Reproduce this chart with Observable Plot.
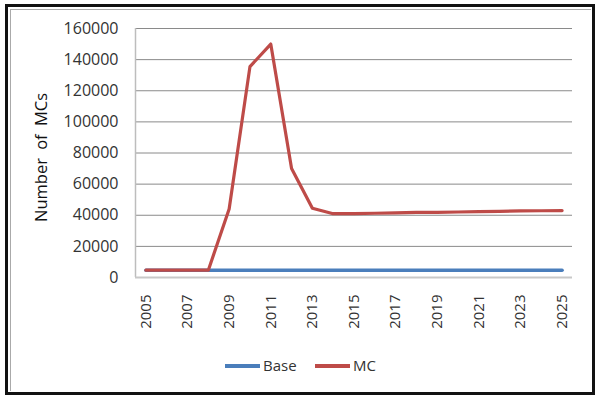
<!DOCTYPE html>
<html>
<head>
<meta charset="utf-8">
<script src="https://cdn.jsdelivr.net/npm/d3@7"></script>
<script src="https://cdn.jsdelivr.net/npm/@observablehq/plot@0.6"></script>
<style>
  html, body { margin: 0; padding: 0; background: #fff; }
  #wrap { position: relative; width: 600px; height: 400px; overflow: hidden; font-family: "Open Sans", sans-serif; }
  #frame { position: absolute; left: 5px; top: 4px; width: 584px; height: 385px; border: 3px solid #111; }
  #inner { position: absolute; left: 2px; top: 2px; right: 1px; bottom: 1px; border: 1px solid #aaa; border-right: none; border-bottom: none; }
  #chart { position: absolute; left: 0; top: 0; }
  .leg { position: absolute; top: 355px; font-size: 15px; color: #333; height: 20px; line-height: 20px; }
  .leg span.sw { position: absolute; top: 9px; width: 35px; height: 4px; }
  .leg span.lb { position: absolute; left: 38px; top: 0; white-space: nowrap; }
</style>
</head>
<body>
<div id="wrap">
  <div id="frame"><div id="inner"></div></div>
  <div id="chart"></div>
  <div class="leg" style="left:225px"><span class="sw" style="background:#4a7ebb"></span><span class="lb">Base</span></div>
  <div class="leg" style="left:315px"><span class="sw" style="background:#be4b48"></span><span class="lb">MC</span></div>
</div>
<script>
const years = [2005,2006,2007,2008,2009,2010,2011,2012,2013,2014,2015,2016,2017,2018,2019,2020,2021,2022,2023,2024,2025];
const baseValues = [4700,4700,4700,4700,4700,4700,4700,4700,4700,4700,4700,4700,4700,4700,4700,4700,4700,4700,4700,4700,4700];
const mcValues = [4700,4700,4700,4700,44000,135500,150000,70000,44500,41000,41000,41300,41500,41800,41900,42100,42300,42500,42800,42900,43000];
const xTicks = [2005,2007,2009,2011,2013,2015,2017,2019,2021,2023,2025];
const yTicks = [0,20000,40000,60000,80000,100000,120000,140000,160000];
const yTitle = "Number of MCs";

const rows = [];
years.forEach((y, i) => {
  rows.push({year: y, value: baseValues[i], series: "Base"});
});
years.forEach((y, i) => {
  rows.push({year: y, value: mcValues[i], series: "MC"});
});

const xMin = years[0] - 0.5;
const xMax = years[years.length - 1] + 0.5;

const chart = Plot.plot({
  width: 600,
  height: 400,
  marginLeft: 135,
  marginRight: 28,
  marginTop: 28,
  marginBottom: 123,
  style: {fontFamily: "'Open Sans', sans-serif", background: "transparent", overflow: "visible"},
  x: {type: "linear", domain: [xMin, xMax]},
  y: {domain: [0, 160000]},
  marks: [
    Plot.ruleY(yTicks.filter(d => d > 0), {stroke: "#8a8a8a", strokeWidth: 1, strokeOpacity: 1}),
    Plot.ruleX([xMin], {y1: 0, y2: 160000, stroke: "#bdbdbd", strokeWidth: 1.5}),
    Plot.ruleY([0], {stroke: "#c8c8c8", strokeWidth: 2}),
    Plot.axisY({ticks: yTicks, tickSize: 0, tickPadding: 17, tickFormat: d => String(d), fontSize: 16, fill: "#333", label: null}),
    Plot.axisX({ticks: xTicks, tickSize: 0, tickRotate: -90, tickPadding: 17, tickFormat: d => String(d), fontSize: 15, fill: "#333", label: null}),
    Plot.line(rows.filter(d => d.series === "Base"), {x: "year", y: "value", stroke: "#4a7ebb", strokeWidth: 3.5}),
    Plot.line(rows.filter(d => d.series === "MC"), {x: "year", y: "value", stroke: "#be4b48", strokeWidth: 3.2}),
    Plot.text([yTitle], {frameAnchor: "left", textAnchor: "middle", dx: -94, dy: 4.5, rotate: -90, fontSize: 16.5, fill: "#111", text: d => d, className: "ytitle"})
  ]
});
document.getElementById("chart").appendChild(chart);
d3.select(chart).selectAll(".ytitle text").style("word-spacing", "4px");
</script>
</body>
</html>
